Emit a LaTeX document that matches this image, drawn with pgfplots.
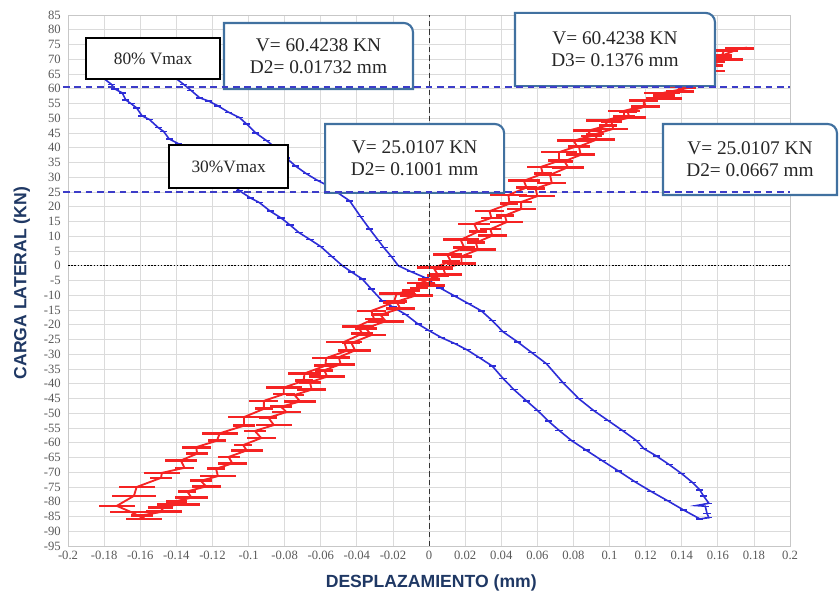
\documentclass[border=0pt]{standalone}
\usepackage{pgfplots}
\pgfplotsset{compat=1.18}
\usepackage{pgfplotstable}
\usepackage{fontspec}
\setmainfont{Liberation Serif}
\setsansfont{Liberation Sans}

\definecolor{boxblue}{RGB}{65,113,160}
\definecolor{dashblue}{RGB}{60,60,200}
\definecolor{curveblue}{RGB}{45,45,215}
\definecolor{curvered}{RGB}{245,35,35}
\definecolor{titlenavy}{RGB}{31,56,100}
\definecolor{tickgray}{RGB}{89,89,89}

% red loop, lower/right strand then upper/left strand (x, load, spike half-length)
\pgfplotstableread{
x y ex
-0.1577 -85.8 0.008
-0.1590 -84.6 0.006
-0.1470 -83.3 0.010
-0.1487 -82.0 0.007
-0.1390 -80.9 0.012
-0.1400 -79.8 0.006
-0.1316 -78.6 0.009
-0.1340 -76.5 0.005
-0.1235 -74.8 0.008
-0.1265 -72.9 0.006
-0.1170 -71.3 0.010
-0.1180 -68.8 0.005
-0.1090 -67.0 0.008
-0.1110 -64.8 0.006
-0.1010 -62.6 0.009
-0.1030 -60.8 0.005
-0.0930 -58.4 0.008
-0.0965 -56.0 0.006
-0.0860 -54.0 0.010
-0.0890 -51.5 0.005
-0.0790 -49.6 0.008
-0.0820 -47.8 0.006
-0.0715 -46.0 0.009
-0.0745 -43.8 0.005
-0.0650 -42.0 0.008
-0.0660 -39.5 0.006
-0.0565 -37.6 0.010
-0.0580 -35.4 0.005
-0.0490 -33.4 0.008
-0.0500 -31.0 0.006
-0.0410 -28.7 0.009
-0.0430 -26.2 0.005
-0.0320 -23.5 0.008
-0.0350 -21.2 0.006
-0.0240 -18.8 0.010
-0.0270 -16.6 0.005
-0.0160 -14.5 0.008
-0.0180 -12.2 0.006
-0.0070 -10.0 0.009
-0.0100 -8.4 0.005
0.0010 -6.6 0.008
0.0000 -4.6 0.006
0.0090 -3.0 0.009
0.0080 -1.0 0.005
0.0180 0.8 0.008
0.0180 3.2 0.006
0.0270 5.4 0.010
0.0260 7.8 0.005
0.0350 10.2 0.008
0.0340 12.4 0.006
0.0430 14.8 0.009
0.0420 17.0 0.005
0.0510 19.2 0.008
0.0510 21.6 0.006
0.0600 23.6 0.010
0.0590 26.2 0.005
0.0680 28.0 0.008
0.0670 30.8 0.006
0.0770 33.4 0.009
0.0750 35.4 0.005
0.0840 37.6 0.008
0.0830 40.4 0.006
0.0930 42.8 0.010
0.0920 44.6 0.005
0.1020 46.4 0.008
0.1010 48.8 0.006
0.1110 50.2 0.009
0.1100 52.2 0.005
0.1200 54.0 0.008
0.1190 55.8 0.006
0.1300 56.8 0.010
0.1290 58.0 0.005
0.1390 59.0 0.008
0.1380 60.8 0.006
0.1480 62.6 0.009
0.1460 64.0 0.005
0.1560 66.0 0.008
0.1550 68.0 0.006
0.1640 69.8 0.010
0.1630 71.4 0.005
0.1720 73.6 0.008
0.1634 72.9 0.008
0.1620 71.0 0.006
0.1540 69.3 0.010
0.1580 67.8 0.005
0.1480 65.5 0.008
0.1520 63.2 0.006
0.1410 61.0 0.009
0.1430 60.2 0.005
0.1290 58.5 0.010
0.1300 57.6 0.006
0.1190 56.0 0.008
0.1190 54.2 0.005
0.1080 52.5 0.009
0.1080 50.8 0.006
0.0970 49.2 0.010
0.0990 47.5 0.005
0.0880 45.8 0.008
0.0900 44.0 0.006
0.0800 42.4 0.009
0.0820 40.5 0.005
0.0720 38.5 0.010
0.0720 35.6 0.006
0.0620 33.5 0.008
0.0630 31.2 0.005
0.0525 28.8 0.009
0.0540 26.5 0.006
0.0440 24.0 0.010
0.0445 21.0 0.005
0.0335 18.5 0.008
0.0345 16.2 0.006
0.0250 14.2 0.009
0.0270 11.5 0.005
0.0175 8.8 0.010
0.0195 6.1 0.006
0.0100 3.8 0.008
0.0120 1.5 0.005
0.0025 -0.7 0.009
0.0050 -3.2 0.006
-0.0045 -5.8 0.008
-0.0055 -7.6 0.005
-0.0180 -9.5 0.010
-0.0195 -12.4 0.006
-0.0320 -15.3 0.008
-0.0305 -18.0 0.005
-0.0395 -20.5 0.009
-0.0370 -23.0 0.006
-0.0470 -25.8 0.010
-0.0455 -28.8 0.005
-0.0570 -31.3 0.008
-0.0575 -33.9 0.006
-0.0690 -36.5 0.009
-0.0695 -39.0 0.005
-0.0805 -41.3 0.010
-0.0805 -43.5 0.006
-0.0915 -45.8 0.008
-0.0915 -48.5 0.005
-0.1025 -51.3 0.009
-0.1025 -54.2 0.006
-0.1160 -56.8 0.010
-0.1175 -59.3 0.005
-0.1290 -61.5 0.008
-0.1285 -63.7 0.006
-0.1375 -66.0 0.009
-0.1355 -68.5 0.005
-0.1480 -70.2 0.010
-0.1485 -71.9 0.006
-0.1620 -75.0 0.010
-0.1635 -78.0 0.012
-0.1730 -81.4 0.010
-0.1650 -83.5 0.012
-0.1577 -85.8 0.010
}\redloop

\newcommand{\callout}[5]{% x1 y1 x2 y2 text
  \draw[boxblue, line width=1.6pt, fill=white]
    (axis cs:#1,#2) -- (axis cs:#1,#4) -- ([xshift=-7pt]axis cs:#3,#4)
    arc[start angle=90, end angle=0, radius=7pt] -- (axis cs:#3,#2) -- cycle;
  \node[font=\fontsize{14.5}{16.5}\selectfont, align=center, text=black!85]
    at (axis cs:{(#1+#3)/2},{(#2+#4)/2}) {#5};
}
\newcommand{\plainbox}[5]{%
  \draw[black, line width=1pt, fill=white] (axis cs:#1,#2) rectangle (axis cs:#3,#4);
  \node[font=\fontsize{13}{15}\selectfont, text=black!85]
    at (axis cs:{(#1+#3)/2},{(#2+#4)/2}) {#5};
}

\begin{document}
\begin{tikzpicture}
\begin{axis}[
  width=541.5pt, height=398.25pt, scale only axis,
  xmin=-0.2, xmax=0.2, ymin=-95, ymax=85,
  xtick={-0.2,-0.18,-0.16,-0.14,-0.12,-0.1,-0.08,-0.06,-0.04,-0.02,0,0.02,0.04,0.06,0.08,0.1,0.12,0.14,0.16,0.18,0.2},
  xticklabels={-0.2,-0.18,-0.16,-0.14,-0.12,-0.1,-0.08,-0.06,-0.04,-0.02,0,0.02,0.04,0.06,0.08,0.1,0.12,0.14,0.16,0.18,0.2},
  ytick={-95,-90,...,85},
  /pgf/number format/assume math mode=true,
  scaled x ticks=false,
  grid=major,
  major grid style={draw=black!14, line width=0.6pt},
  axis line style={draw=black!22, line width=0.6pt},
  tick style={draw=none},
  ticklabel style={font=\fontsize{9.5}{11}\selectfont, text=tickgray},
  yticklabel style={xshift=-2pt},
  xlabel={DESPLAZAMIENTO (mm)},
  ylabel={CARGA LATERAL (KN)},
  label style={font=\sffamily\bfseries\fontsize{13.2}{15}\selectfont, text=titlenavy},
  xlabel style={at={(rel axis cs:0.503,-0.070)}, anchor=center},
  ylabel style={at={(rel axis cs:-0.064,0.495)}, anchor=center, rotate=0},
  clip=false,
]
% blue loop
\addplot[curveblue, line width=1.2pt, no markers,
  error bars/.cd, x dir=both, x fixed=0.0020, error mark=none,
  error bar style={line width=1pt, curveblue}] coordinates {
(-0.180,63.4) (-0.176,61.5) (-0.174,59.9) (-0.170,58.6) (-0.168,56.2) (-0.165,54.9) (-0.162,53.5) (-0.159,50.8) (-0.155,49.6) (-0.150,46.8) (-0.147,45.5) (-0.144,43.0) (-0.139,41.4) (-0.133,39.0) (-0.127,36.5) (-0.120,33.5) (-0.114,30.6) (-0.109,27.6) (-0.105,25.4) (-0.099,23.0) (-0.094,21.4) (-0.088,18.5) (-0.082,16.2) (-0.077,13.8) (-0.072,11.2) (-0.066,8.9) (-0.060,6.5) (-0.054,3.2) (-0.048,0) (-0.043,-2.1) (-0.037,-4.5) (-0.032,-7.9) (-0.026,-11.9) (-0.020,-14.0) (-0.013,-16.5) (-0.006,-19.8) (0.000,-22.0) (0.007,-24.4) (0.014,-26.3) (0.021,-28.5) (0.028,-31.2) (0.035,-34.0) (0.041,-38.2) (0.047,-42.0) (0.054,-45.8) (0.060,-49.0) (0.066,-52.6) (0.072,-55.8) (0.079,-59.3) (0.087,-62.5) (0.096,-66.1) (0.105,-69.6) (0.114,-73.2) (0.123,-76.5) (0.132,-79.6) (0.141,-82.8) (0.150,-85.8) (0.155,-85.4) (0.154,-84.0) (0.153,-81.5) (0.148,-81.3) (0.155,-80.5) (0.152,-78.0) (0.150,-76.0) (0.146,-73.5) (0.140,-70.5) (0.133,-67.4) (0.126,-64.5) (0.119,-62.0) (0.115,-59.3) (0.107,-55.8) (0.099,-52.4) (0.091,-49.0) (0.083,-45.1) (0.074,-39.5) (0.065,-33.2) (0.057,-29.5) (0.049,-25.8) (0.041,-22.4) (0.035,-18.6) (0.029,-15.3) (0.022,-12.9) (0.014,-10.2) (0.006,-7.5) (-0.002,-4.1) (-0.010,-2.0) (-0.017,0) (-0.021,3.2) (-0.025,6.1) (-0.028,8.5) (-0.033,12.5) (-0.038,16.7) (-0.044,22.0) (-0.050,24.5) (-0.056,27.1) (-0.062,29.0) (-0.068,31.2) (-0.074,33.8) (-0.079,36.5) (-0.085,40.0) (-0.090,42.4) (-0.096,45.0) (-0.101,48.0) (-0.105,50.2) (-0.111,52.0) (-0.117,54.2) (-0.122,55.8) (-0.127,56.9) (-0.132,59.5) (-0.136,61.5) (-0.140,63.4) (-0.146,66.0) (-0.155,68.5) (-0.168,70.0) (-0.178,67.0) (-0.180,63.4)
};
% red loop with horizontal spikes
\addplot[curvered, line width=1.4pt, no markers,
  error bars/.cd, x dir=both, x explicit, error mark=none,
  error bar style={line width=2pt, curvered}]
  table[x=x, y=y, x error=ex] {\redloop};

% reference lines
\draw[black!80, line width=0.7pt, dash pattern=on 4pt off 2.5pt] (axis cs:0,-95) -- (axis cs:0,85);
\draw[black, line width=0.8pt, dash pattern=on 1.2pt off 1.2pt] (axis cs:-0.2,0) -- (axis cs:0.2,0);

% annotation boxes
\plainbox{-0.1900}{63.3}{-0.1158}{77.2}{80\% Vmax}
\plainbox{-0.1440}{26.4}{-0.0781}{40.9}{30\%Vmax}
\callout{-0.1136}{59.9}{-0.0089}{82.3}{V= 60.4238 KN\\D2= 0.01732 mm}
\callout{0.0476}{60.9}{0.1584}{85.7}{V= 60.4238 KN\\D3= 0.1376 mm}
\callout{-0.0576}{24.7}{0.0416}{48.05}{V= 25.0107 KN\\D2= 0.1001 mm}
\callout{0.1296}{24.0}{0.2260}{48.05}{V= 25.0107 KN\\D2= 0.0667 mm}

\draw[dashblue, line width=1.5pt, dash pattern=on 5pt off 3.5pt] (axis cs:-0.2028,60.4238) -- (axis cs:0.2,60.4238);
\draw[dashblue, line width=1.5pt, dash pattern=on 5pt off 3.5pt] (axis cs:-0.2028,25.0107) -- (axis cs:0.2,25.0107);

% page frame
\path (axis cs:-0.2377,-113.3) rectangle (axis cs:0.2271,90.08);
\end{axis}
\end{tikzpicture}
\end{document}
